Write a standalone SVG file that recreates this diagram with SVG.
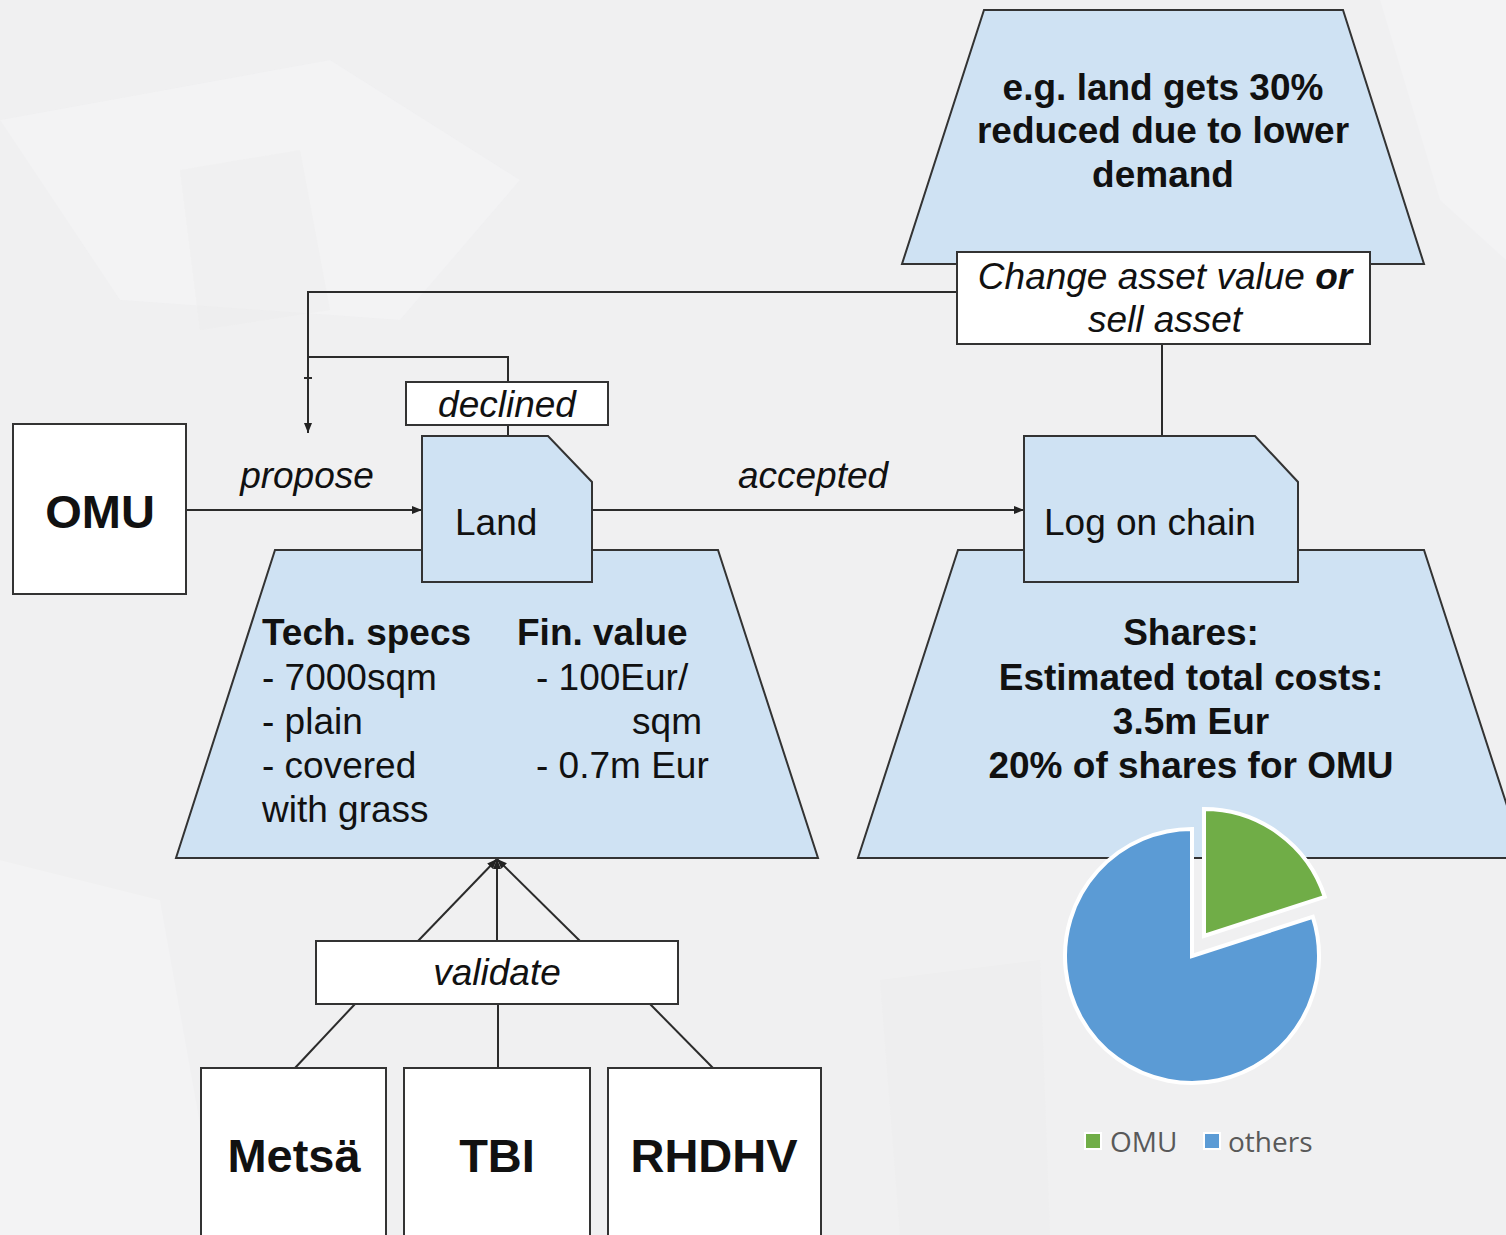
<svg xmlns="http://www.w3.org/2000/svg" width="1506" height="1235" viewBox="0 0 1506 1235">
  <defs>
    <marker id="arrow" viewBox="0 0 10 10" refX="10" refY="5" markerWidth="10" markerHeight="10" markerUnits="userSpaceOnUse" orient="auto">
      <path d="M0,1 L10,5 L0,9 Z" fill="#222"/>
    </marker>
    <style>
      text { font-family: "Liberation Sans", Arial, sans-serif; fill: #111; }
      .shape { fill: #cfe2f3; stroke: #333; stroke-width: 2; }
      .box { fill: #ffffff; stroke: #333; stroke-width: 2; }
      .conn { fill: none; stroke: #2b2b2b; stroke-width: 2; }
      .t36 { font-size: 37px; }
      .b36 { font-size: 37px; font-weight: bold; }
      .lbl { font-size: 37px; font-style: italic; text-anchor: middle; }
      .big { font-size: 47px; font-weight: bold; text-anchor: middle; }
      .mid { text-anchor: middle; }
      .legend { font-family: "Open Sans", "Liberation Sans", sans-serif; font-size: 28px; fill: #595959; }
    </style>
  </defs>

  <!-- backdrop -->
  <rect x="0" y="0" width="1506" height="1235" fill="#f0f0f1"/>
  <g fill="#f6f6f7" opacity="0.5">
    <polygon points="0,120 330,60 520,180 400,320 120,300"/>
    <polygon points="1380,0 1506,0 1506,260 1440,200"/>
    <polygon points="0,860 160,900 220,1235 0,1235"/>
  </g>
  <g fill="#ebebec" opacity="0.35">
    <polygon points="180,170 300,150 330,310 200,330"/>
    <polygon points="880,980 1040,960 1050,1235 900,1235"/>
  </g>

  <!-- connectors -->
  <g id="connectors">
    <!-- change asset value -> back to proposal -->
    <path class="conn" d="M957,292 H308 V433" marker-end="url(#arrow)"/>
    <path class="conn" d="M304,378 H312" stroke-width="1.5"/>
    <!-- declined loop -->
    <path class="conn" d="M508,382 V357 H308"/>
    <path class="conn" d="M508,425 V436"/>
    <!-- propose / accepted -->
    <path class="conn" d="M186,510 H422" marker-end="url(#arrow)"/>
    <path class="conn" d="M592,510 H1024" marker-end="url(#arrow)"/>
    <!-- log on chain -> change asset value -->
    <path class="conn" d="M1162,436 V344"/>
    <!-- validate arrows -->
    <path class="conn" d="M418,941 L497,859" marker-end="url(#arrow)"/>
    <path class="conn" d="M497,941 V859" marker-end="url(#arrow)"/>
    <path class="conn" d="M580,941 L497,859" marker-end="url(#arrow)"/>
    <!-- validators -> validate -->
    <path class="conn" d="M355,1004 L295,1068"/>
    <path class="conn" d="M498,1004 V1068"/>
    <path class="conn" d="M650,1004 L713,1068"/>
  </g>

  <!-- asset value change -->
  <g id="value-change">
    <polygon class="shape" points="984,10 1343,10 1424,264 902,264"/>
    <text class="b36 mid" x="1163" y="100">e.g. land gets 30%</text>
    <text class="b36 mid" x="1163" y="143">reduced due to lower</text>
    <text class="b36 mid" x="1163" y="187">demand</text>
  </g>

  <g id="change-asset">
    <rect class="box" x="957" y="252" width="413" height="92"/>
    <text class="t36 mid" x="1165" y="289" font-style="italic">Change asset value <tspan font-weight="bold">or</tspan></text>
    <text class="t36 mid" x="1165" y="332" font-style="italic">sell asset</text>
  </g>

  <g id="declined">
    <rect class="box" x="406" y="382" width="202" height="43"/>
    <text class="lbl" x="507" y="417">declined</text>
  </g>

  <g id="omu">
    <rect class="box" x="13" y="424" width="173" height="170"/>
    <text class="big" x="100" y="528" font-size="48">OMU</text>
  </g>

  <text id="lbl-propose" class="lbl" x="307" y="488">propose</text>
  <text id="lbl-accepted" class="lbl" x="813" y="488">accepted</text>

  <!-- land details -->
  <g id="land-details">
    <polygon class="shape" points="275,550 718,550 818,858 176,858"/>
    <text class="b36" x="262" y="645">Tech. specs</text>
    <text class="t36" x="262" y="690">- 7000sqm</text>
    <text class="t36" x="262" y="734">- plain</text>
    <text class="t36" x="262" y="778">- covered</text>
    <text class="t36" x="262" y="822">with grass</text>
    <text class="b36" x="517" y="645">Fin. value</text>
    <text class="t36" x="536" y="690">- 100Eur/</text>
    <text class="t36" x="702" y="734" text-anchor="end">sqm</text>
    <text class="t36" x="536" y="778">- 0.7m Eur</text>
  </g>

  <g id="land">
    <path class="shape" d="M422,436 H548 L592,482 V582 H422 Z"/>
    <text class="t36" x="455" y="535">Land</text>
  </g>

  <!-- shares -->
  <g id="shares">
    <polygon class="shape" points="958,550 1424,550 1524,858 858,858"/>
    <text class="b36 mid" x="1191" y="645">Shares:</text>
    <text class="b36 mid" x="1191" y="690">Estimated total costs:</text>
    <text class="b36 mid" x="1191" y="734">3.5m Eur</text>
    <text class="b36 mid" x="1191" y="778">20% of shares for OMU</text>
  </g>

  <g id="log-on-chain">
    <path class="shape" d="M1024,436 H1255 L1298,482 V582 H1024 Z"/>
    <text class="t36" x="1044" y="535">Log on chain</text>
  </g>

  <g id="validate">
    <rect class="box" x="316" y="941" width="362" height="63"/>
    <text class="lbl" x="497" y="985">validate</text>
  </g>

  <g id="metsa">
    <rect class="box" x="201" y="1068" width="185" height="180"/>
    <text class="big" x="294" y="1172">Metsä</text>
  </g>
  <g id="tbi">
    <rect class="box" x="404" y="1068" width="186" height="180"/>
    <text class="big" x="497" y="1172">TBI</text>
  </g>
  <g id="rhdhv">
    <rect class="box" x="608" y="1068" width="213" height="180"/>
    <text class="big" x="714" y="1172">RHDHV</text>
  </g>

  <!-- share split pie -->
  <g id="share-pie" stroke="#ffffff" stroke-width="4" stroke-linejoin="miter">
    <path d="M1192,956 L1312.8,916.8 A127,127 0 1,1 1192,829 Z" fill="#5b9bd5"/>
    <path d="M1204,936 L1204,809 A127,127 0 0,1 1324.8,896.8 Z" fill="#70ad47"/>
  </g>

  <g id="pie-legend">
    <rect x="1085" y="1133" width="16" height="16" fill="#70ad47" stroke="#ffffff" stroke-width="2"/>
    <text class="legend" x="1110" y="1152">OMU</text>
    <rect x="1204" y="1133" width="16" height="16" fill="#5b9bd5" stroke="#ffffff" stroke-width="2"/>
    <text class="legend" x="1228" y="1152">others</text>
  </g>
</svg>
